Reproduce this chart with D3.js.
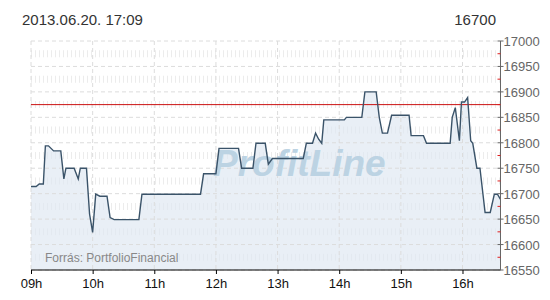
<!DOCTYPE html>
<html>
<head>
<meta charset="utf-8">
<script src="https://cdn.jsdelivr.net/npm/d3@7"></script>
<style>
body { margin: 0; background: #fff; }
text { font-family: "Liberation Sans", Arial, sans-serif; }
</style>
</head>
<body>
<script>
//Data: time of day and index value
var times = ["09:00","09:05","09:08","09:12","09:14","09:17","09:22","09:29","09:32","09:34",
             "09:42","09:46","09:48","09:54","09:57","10:00","10:03","10:07","10:14","10:17",
             "10:21","10:45","10:48","11:45","11:48","12:00","12:03","12:22","12:25","12:36",
             "12:39","12:48","12:51","12:55","13:25","13:28","13:34","13:37","13:40","13:43",
             "13:45","14:05","14:07","14:22","14:25","14:36","14:39","14:42","14:47","14:51",
             "15:08","15:10","15:22","15:25","15:48","15:50","15:53","15:57","15:59","16:02",
             "16:05","16:08","16:10","16:14","16:17","16:22","16:27","16:31","16:34","16:37"];
var values = [16714,16714,16719,16719,16794,16794,16784,16784,16729,16750,
              16750,16729,16750,16750,16660,16624,16699,16695,16695,16653,
              16649,16649,16699,16699,16739,16739,16789,16789,16750,16750,
              16799,16799,16758,16769,16769,16799,16799,16819,16807,16799,
              16845,16845,16850,16850,16900,16900,16850,16819,16819,16854,
              16854,16814,16814,16799,16799,16850,16869,16804,16880,16880,
              16889,16804,16799,16750,16750,16663,16663,16699,16699,16689];
var hourTicks = ["09:00","10:00","11:00","12:00","13:00","14:00","15:00","16:00"];
var yTicks = [16550,16600,16650,16700,16750,16800,16850,16900,16950,17000];
var prevClose = 16875;
var titleText = "2013.06.20. 17:09";
var lastValue = "16700";
var sourceText = "Forrás: PortfolioFinancial";

var w = 550, h = 300;
var plotLeft = 31, plotRight = 500.5, plotTop = 41, plotBottom = 270;

var parse = d3.timeParse("%H:%M");
var data = times.map(function(t, i) { return { t: parse(t), v: values[i] }; });

var x = d3.scaleTime()
    .domain([parse("09:00"), parse("16:37")])
    .range([plotLeft, plotRight]);
var y = d3.scaleLinear()
    .domain([16550, 17000])
    .range([plotBottom, plotTop]);

var svg = d3.select("body").append("svg")
    .attr("width", w)
    .attr("height", h);

//Minor grid rows (between the 50-point lines)
svg.selectAll("line.minor")
    .data(yTicks.slice(0, -1))
    .enter()
    .append("line")
    .attr("class", "minor")
    .attr("x1", plotLeft).attr("x2", plotRight)
    .attr("y1", function(d) { return y(d + 25); })
    .attr("y2", function(d) { return y(d + 25); })
    .style("stroke", "#ececec")
    .style("stroke-width", 7)
    .style("stroke-dasharray", "1,3");

//Area under the line
var area = d3.area()
    .x(function(d) { return x(d.t); })
    .y0(plotBottom)
    .y1(function(d) { return y(d.v); });

svg.append("path")
    .datum(data)
    .attr("d", area)
    .style("fill", "#dfe8f2")
    .style("fill-opacity", 0.7);

//Major grid
svg.selectAll("line.hgrid")
    .data(yTicks)
    .enter()
    .append("line")
    .attr("class", "hgrid")
    .attr("x1", plotLeft).attr("x2", plotRight)
    .attr("y1", function(d) { return y(d); })
    .attr("y2", function(d) { return y(d); })
    .style("stroke", "#dcdcdc")
    .style("stroke-dasharray", "4,3");

svg.selectAll("line.vgrid")
    .data(hourTicks)
    .enter()
    .append("line")
    .attr("class", "vgrid")
    .attr("x1", function(d) { return x(parse(d)); })
    .attr("x2", function(d) { return x(parse(d)); })
    .attr("y1", plotTop).attr("y2", plotBottom)
    .style("stroke", "#dcdcdc")
    .style("stroke-dasharray", "4,3");

//Watermark
svg.append("text")
    .attr("x", 213)
    .attr("y", 176)
    .style("font-size", "37px")
    .style("font-weight", "bold")
    .style("font-style", "italic")
    .style("fill", "#bcd3e3")
    .text("ProfitLine");

//Previous close
svg.append("line")
    .attr("x1", plotLeft).attr("x2", plotRight)
    .attr("y1", y(prevClose)).attr("y2", y(prevClose))
    .style("stroke", "#cc1111")
    .style("stroke-width", 1);

//Price line
var line = d3.line()
    .x(function(d) { return x(d.t); })
    .y(function(d) { return y(d.v); });

svg.append("path")
    .datum(data)
    .attr("d", line)
    .style("fill", "none")
    .style("stroke", "#3a5369")
    .style("stroke-width", 1.4);

//Bottom axis
var xAxis = d3.axisBottom(x)
    .tickValues(hourTicks.map(parse))
    .tickSize(4)
    .tickPadding(5)
    .tickFormat(d3.timeFormat("%Hh"));

var gx = svg.append("g")
    .attr("transform", "translate(0," + plotBottom + ")")
    .call(xAxis);
gx.select(".domain").remove();
gx.append("line")
    .attr("x1", plotLeft).attr("x2", plotRight)
    .style("stroke", "#000");
gx.selectAll("text")
    .style("font-family", "Liberation Sans, Arial, sans-serif")
    .style("font-size", "13px")
    .style("fill", "#111");

//Right axis
svg.append("line")
    .attr("x1", plotRight).attr("x2", plotRight)
    .attr("y1", plotTop).attr("y2", plotBottom)
    .style("stroke", "#666");

svg.selectAll("line.redtick")
    .data(yTicks.slice(0, -1))
    .enter()
    .append("line")
    .attr("class", "redtick")
    .attr("x1", plotRight - 3).attr("x2", plotRight)
    .attr("y1", function(d) { return y(d + 25); })
    .attr("y2", function(d) { return y(d + 25); })
    .style("stroke", "#e02020");

svg.selectAll("line.ytick")
    .data(yTicks)
    .enter()
    .append("line")
    .attr("class", "ytick")
    .attr("x1", plotRight - 3).attr("x2", plotRight + 3)
    .attr("y1", function(d) { return y(d); })
    .attr("y2", function(d) { return y(d); })
    .style("stroke", "#666");

svg.selectAll("text.ylabel")
    .data(yTicks)
    .enter()
    .append("text")
    .attr("class", "ylabel")
    .attr("x", plotRight + 3)
    .attr("y", function(d) { return y(d) + 5; })
    .style("font-size", "13px")
    .style("fill", "#666")
    .text(function(d) { return d; });

//Source
svg.append("text")
    .attr("x", 45)
    .attr("y", 262)
    .style("font-size", "12px")
    .style("fill", "#888")
    .text(sourceText);

//Header
svg.append("text")
    .attr("x", 22)
    .attr("y", 25)
    .style("font-size", "15px")
    .style("fill", "#333")
    .text(titleText);

svg.append("text")
    .attr("x", 496)
    .attr("y", 25)
    .attr("text-anchor", "end")
    .style("font-size", "15px")
    .style("fill", "#333")
    .text(lastValue);
</script>
</body>
</html>
